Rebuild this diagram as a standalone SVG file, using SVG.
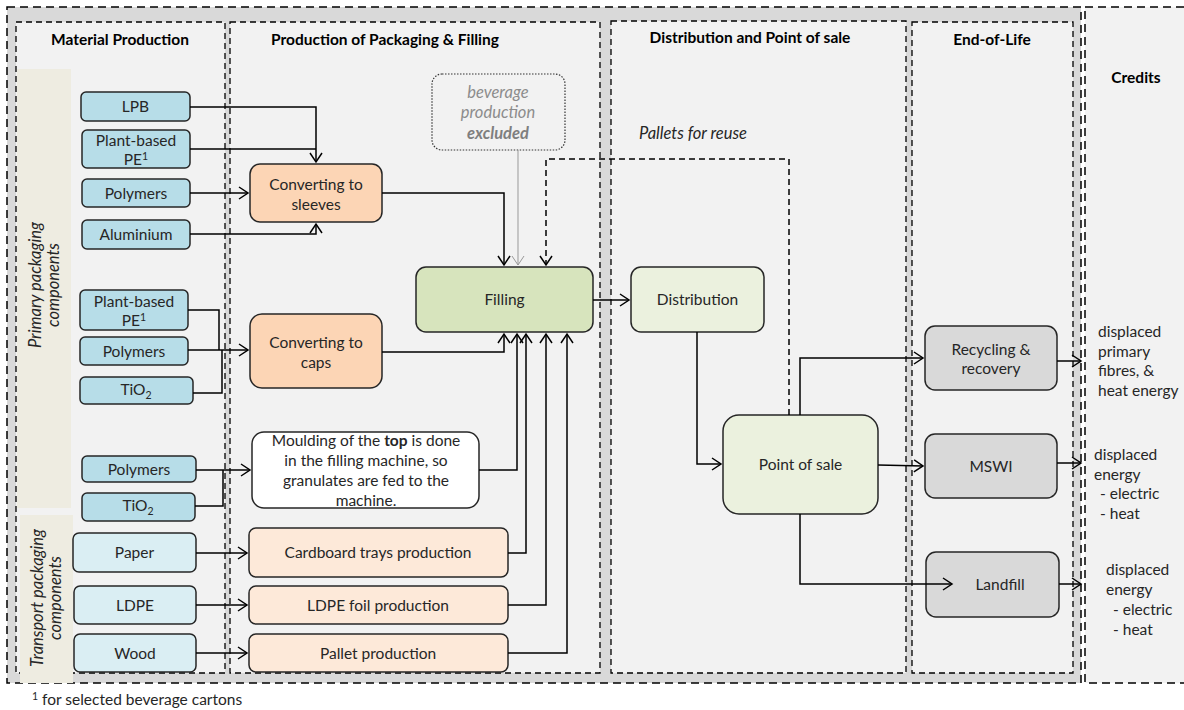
<svg xmlns="http://www.w3.org/2000/svg" width="1184" height="710" viewBox="0 0 1184 710">
<style>
text{font-family:Lato,"Liberation Sans",sans-serif;fill:#262626;font-size:15.5px}
.hd{font-weight:bold;font-size:15.5px;fill:#000}
.ctr{text-anchor:middle}
.col{fill:#f2f2f2;stroke:#000;stroke-width:1.3;stroke-dasharray:6,4}
.n{stroke:#262626;stroke-width:1.5}
.mat{fill:#b7dde8}
.tmat{fill:#daeef3}
.proc{fill:#fcd5b5}
.tproc{fill:#fde9d9}
.c{fill:none;stroke:#000;stroke-width:1.5}
.it{font-style:italic;font-size:16.5px}
.sup{font-size:10.5px}
</style>
<defs>
<marker id="a" markerWidth="12" markerHeight="14" refX="10" refY="7" orient="auto" markerUnits="userSpaceOnUse"><path d="M1,1 L10,7 L1,13" fill="none" stroke="#000" stroke-width="1.5"/></marker>
<marker id="ag" markerWidth="12" markerHeight="14" refX="10" refY="7" orient="auto" markerUnits="userSpaceOnUse"><path d="M1,1 L10,7 L1,13" fill="none" stroke="#999" stroke-width="1"/></marker>
</defs>
<rect width="1184" height="710" fill="#fff"/>
<g id="frame">
<rect x="7" y="7" width="1074" height="676" fill="#d9d9d9" stroke="#000" stroke-width="1.5" stroke-dasharray="8,5"/>
<rect x="1085" y="7" width="110" height="676" fill="#f2f2f2" stroke="#000" stroke-width="1.5" stroke-dasharray="8,5"/>
<rect class="col" x="16" y="22" width="209" height="651"/>
<rect class="col" x="230" y="22" width="370" height="651"/>
<rect class="col" x="611" y="21" width="295" height="652"/>
<rect class="col" x="912" y="22" width="161" height="651"/>
<rect x="17" y="69" width="54" height="439" fill="#eeece1"/>
<rect x="20" y="515" width="53" height="168" fill="#eeece1"/>
<text class="hd ctr" x="120" y="45">Material Production</text>
<text class="hd ctr" x="385" y="45">Production of Packaging &amp; Filling</text>
<text class="hd ctr" x="750" y="43">Distribution and Point of sale</text>
<text class="hd ctr" x="992" y="45">End-of-Life</text>
<text class="hd ctr" x="1136" y="83">Credits</text>
<text class="it ctr" transform="translate(41,285) rotate(-90)"><tspan x="0" y="0">Primary packaging</tspan><tspan x="0" y="18">components</tspan></text>
<text class="it ctr" transform="translate(43,598) rotate(-90)"><tspan x="0" y="0">Transport packaging</tspan><tspan x="0" y="18">components</tspan></text>
<text class="it" x="639" y="139">Pallets for reuse</text>
<text x="32" y="705"><tspan dy="-5" class="sup">1</tspan><tspan dy="5"> for selected beverage cartons</tspan></text>
</g>
<g id="n-lpb"><rect class="n mat" x="81" y="92" width="109" height="29" rx="5"/><text class="ctr" x="135.5" y="112">LPB</text></g>
<g id="n-pe1"><rect class="n mat" x="82" y="130" width="108" height="38" rx="5"/><text class="ctr" x="136" y="146">Plant-based</text><text class="ctr" x="136" y="165">PE<tspan dy="-5" class="sup">1</tspan></text></g>
<g id="n-poly1"><rect class="n mat" x="82" y="179" width="108" height="28" rx="5"/><text class="ctr" x="136" y="198.5">Polymers</text></g>
<g id="n-alu"><rect class="n mat" x="82" y="220" width="108" height="29" rx="5"/><text class="ctr" x="136" y="240">Aluminium</text></g>
<g id="n-pe2"><rect class="n mat" x="80" y="290" width="108" height="40" rx="5"/><text class="ctr" x="134" y="307">Plant-based</text><text class="ctr" x="134" y="326">PE<tspan dy="-5" class="sup">1</tspan></text></g>
<g id="n-poly2"><rect class="n mat" x="80" y="337" width="108" height="28" rx="5"/><text class="ctr" x="134" y="356.5">Polymers</text></g>
<g id="n-tio1"><rect class="n mat" x="80" y="377" width="113" height="27" rx="5"/><text class="ctr" x="136" y="395">TiO<tspan dy="4" class="sup">2</tspan></text></g>
<g id="n-poly3"><rect class="n mat" x="82" y="456" width="114" height="26" rx="5"/><text class="ctr" x="139" y="474.5">Polymers</text></g>
<g id="n-tio2"><rect class="n mat" x="82" y="493" width="113" height="28" rx="5"/><text class="ctr" x="138" y="511">TiO<tspan dy="4" class="sup">2</tspan></text></g>
<g id="n-paper"><rect class="n tmat" x="73" y="533" width="123" height="39" rx="6"/><text class="ctr" x="134.5" y="558">Paper</text></g>
<g id="n-ldpe"><rect class="n tmat" x="74" y="586" width="122" height="38" rx="6"/><text class="ctr" x="135" y="610.5">LDPE</text></g>
<g id="n-wood"><rect class="n tmat" x="74" y="634" width="122" height="38" rx="6"/><text class="ctr" x="135" y="658.5">Wood</text></g>
<g id="n-sleeves"><rect class="n proc" x="250" y="164" width="132" height="58" rx="10"/><text class="ctr" x="316" y="190">Converting to</text><text class="ctr" x="316" y="210">sleeves</text></g>
<g id="n-caps"><rect class="n proc" x="250" y="314" width="132" height="74" rx="12"/><text class="ctr" x="316" y="348">Converting to</text><text class="ctr" x="316" y="368">caps</text></g>
<g id="n-moulding"><rect class="n" fill="#fff" x="252" y="432" width="227" height="76" rx="12"/><text class="ctr" x="366" y="446">Moulding of the <tspan font-weight="bold">top</tspan> is done</text><text class="ctr" x="366" y="466">in the filling machine, so</text><text class="ctr" x="366" y="486">granulates are fed to the</text><text class="ctr" x="366" y="506">machine.</text></g>
<g id="n-cardboard"><rect class="n tproc" x="249" y="528" width="259" height="49" rx="7"/><text class="ctr" x="378" y="558">Cardboard trays production</text></g>
<g id="n-ldpefoil"><rect class="n tproc" x="249" y="586" width="259" height="38" rx="7"/><text class="ctr" x="378" y="610.5">LDPE foil production</text></g>
<g id="n-pallet"><rect class="n tproc" x="249" y="634" width="259" height="38" rx="7"/><text class="ctr" x="378" y="658.5">Pallet production</text></g>
<g id="n-beverage"><rect x="432" y="74" width="133" height="76" rx="10" fill="none" stroke="#333" stroke-width="1.2" stroke-dasharray="1.5,1.5"/><text class="it ctr" x="498" y="98" style="fill:#8c8c8c">beverage</text><text class="it ctr" x="498" y="118" style="fill:#8c8c8c">production</text><text class="it ctr" x="498" y="139" style="fill:#7f7f7f;font-weight:bold">excluded</text></g>
<g id="n-filling"><rect class="n" fill="#d7e4bd" x="416" y="267" width="177" height="65" rx="10"/><text class="ctr" x="504.5" y="305">Filling</text></g>
<g id="n-distribution"><rect class="n" fill="#ebf1de" x="631" y="267" width="133" height="65" rx="10"/><text class="ctr" x="697.5" y="305">Distribution</text></g>
<g id="n-pos"><rect class="n" fill="#ebf1de" x="723" y="415" width="155" height="99" rx="16"/><text class="ctr" x="800.5" y="470">Point of sale</text></g>
<g id="n-recycling"><rect class="n" fill="#d9d9d9" x="925" y="326" width="132" height="64" rx="10"/><text class="ctr" x="991" y="355">Recycling &amp;</text><text class="ctr" x="991" y="374">recovery</text></g>
<g id="n-mswi"><rect class="n" fill="#d9d9d9" x="925" y="434" width="132" height="64" rx="10"/><text class="ctr" x="991" y="472">MSWI</text></g>
<g id="n-landfill"><rect class="n" fill="#d9d9d9" x="926" y="552" width="133" height="65" rx="10"/><text class="ctr" x="1000" y="590">Landfill</text></g>
<g id="credits-text">
<text x="1098" y="337"><tspan x="1098">displaced</tspan><tspan x="1098" dy="19.5">primary</tspan><tspan x="1098" dy="19.5">fibres, &amp;</tspan><tspan x="1098" dy="19.5">heat energy</tspan></text>
<text x="1094" y="460"><tspan x="1094">displaced</tspan><tspan x="1094" dy="19.5">energy</tspan><tspan x="1100" dy="19.5">- electric</tspan><tspan x="1100" dy="19.5">- heat</tspan></text>
<text x="1106" y="575"><tspan x="1106">displaced</tspan><tspan x="1106" dy="20">energy</tspan><tspan x="1113" dy="20">- electric</tspan><tspan x="1113" dy="20">- heat</tspan></text>
</g>
<g id="connectors">
<path class="c" d="M190,107 H316 V162" marker-end="url(#a)"/>
<path class="c" d="M190,149 H316"/>
<path class="c" d="M190,193 H248" marker-end="url(#a)"/>
<path class="c" d="M190,234 H316 V224" marker-end="url(#a)"/>
<path class="c" d="M188,310 H219 V350"/>
<path class="c" d="M188,350 H248" marker-end="url(#a)"/>
<path class="c" d="M193,393 H222 V350"/>
<path class="c" d="M196,470 H250" marker-end="url(#a)"/>
<path class="c" d="M195,506 H223 V470"/>
<path class="c" d="M196,553 H247" marker-end="url(#a)"/>
<path class="c" d="M196,605 H247" marker-end="url(#a)"/>
<path class="c" d="M196,653 H247" marker-end="url(#a)"/>
<path class="c" d="M382,193 H504 V265" marker-end="url(#a)"/>
<path d="M518,150 V265" fill="none" stroke="#999" stroke-width="1" marker-end="url(#ag)"/>
<path d="M789,415 V159 H546 V265" fill="none" stroke="#000" stroke-width="1.5" stroke-dasharray="6,4" marker-end="url(#a)"/>
<path class="c" d="M382,352 H504 V334" marker-end="url(#a)"/>
<path class="c" d="M479,470 H517 V334" marker-end="url(#a)"/>
<path class="c" d="M508,553 H526 V334" marker-end="url(#a)"/>
<path class="c" d="M508,605 H546 V334" marker-end="url(#a)"/>
<path class="c" d="M508,653 H567 V334" marker-end="url(#a)"/>
<path class="c" d="M593,300 H629" marker-end="url(#a)"/>
<path class="c" d="M697,332 V464 H721" marker-end="url(#a)"/>
<path class="c" d="M800,415 V358 H923" marker-end="url(#a)"/>
<path class="c" d="M878,465 L923,466" marker-end="url(#a)"/>
<path class="c" d="M800,514 V584 H952" marker-end="url(#a)"/>
<path class="c" d="M1057,361 H1081" marker-end="url(#a)"/>
<path class="c" d="M1057,463 H1081" marker-end="url(#a)"/>
<path class="c" d="M1059,584 H1081" marker-end="url(#a)"/>
</g>
</svg>
